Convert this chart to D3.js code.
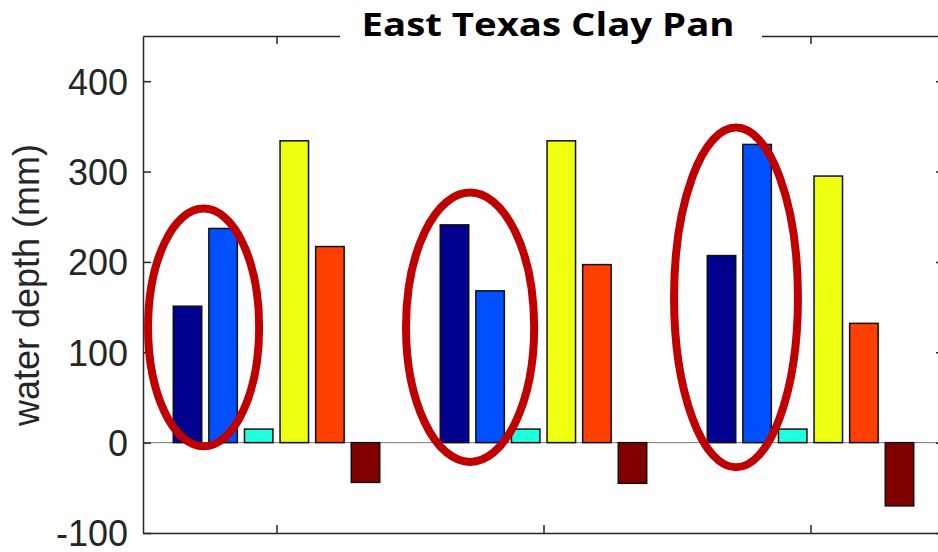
<!DOCTYPE html>
<html>
<head>
<meta charset="utf-8">
<script src="https://cdn.jsdelivr.net/npm/d3@7"></script>
<style>
  body { margin: 0; background: #fff; }
  svg { display: block; }
</style>
</head>
<body>
<svg width="938" height="552"></svg>
<script>
/*global d3*/
(function () {
    'use strict';

    // groups (x positions 1..3) and six series per group
    var groups = [1, 2, 3];
    var seriesColors = ['#00008f', '#0050ff', '#20ffdf', '#efff10', '#ff4000', '#800000'];
    var s1 = [151, 241, 207];
    var s2 = [237, 168, 330];
    var s3 = [15, 15, 15];
    var s4 = [334, 334, 295];
    var s5 = [217, 197, 132];
    var s6 = [-44, -45, -70];
    var series = [s1, s2, s3, s4, s5, s6];

    var yTicks = [-100, 0, 100, 200, 300, 400];
    var titleText = 'East Texas Clay Pan';
    var yLabel = 'water depth (mm)';

    // red highlight ellipses, in data units (cx, cy, rx, ry)
    var ellipses = [
        { cx: 0.727, cy: 127.5, rx: 0.208, ry: 131.6 },
        { cx: 1.725, cy: 127.7, rx: 0.240, ry: 149 },
        { cx: 2.721, cy: 160.7, rx: 0.232, ry: 188 }
    ];

    var svg = d3.select('svg');
    var left = 143, right = 944, top = 36, bottom = 533;
    var axisColor = '#262626';

    var x = d3.scaleLinear().domain([0.5, 3.5]).range([left, right]);
    var y = d3.scaleLinear().domain([-100, 450]).range([bottom, top]);

    var slot = 0.8 / series.length;
    var barW = slot * 0.8;

    var rows = [];
    series.forEach(function (vals, i) {
        vals.forEach(function (v, g) {
            rows.push({ s: i, g: groups[g], v: v });
        });
    });

    // zero baseline
    svg.append('line')
        .attr('x1', left).attr('x2', right)
        .attr('y1', y(0)).attr('y2', y(0))
        .attr('stroke', '#777').attr('stroke-width', 1);

    svg.append('g').attr('class', 'bars')
        .selectAll('rect')
        .data(rows)
        .enter().append('rect')
        .attr('x', function (d) { return x(d.g + (d.s - 2.5) * slot - barW / 2); })
        .attr('width', function (d) { return x(d.g + barW / 2) - x(d.g - barW / 2); })
        .attr('y', function (d) { return y(Math.max(0, d.v)); })
        .attr('height', function (d) { return Math.abs(y(d.v) - y(0)); })
        .attr('fill', function (d) { return seriesColors[d.s]; })
        .attr('stroke', '#111')
        .attr('stroke-width', 1.5);

    // box axes
    var yAxis = d3.axisLeft(y).tickValues(yTicks).tickFormat(String)
        .tickSizeInner(-8).tickSizeOuter(0).tickPadding(15);
    var gy = svg.append('g').attr('transform', 'translate(' + left + ',0)').call(yAxis);
    gy.select('.domain').attr('stroke', axisColor).attr('stroke-width', 1.5);
    gy.selectAll('.tick line').attr('stroke', axisColor).attr('stroke-width', 1.5);
    gy.selectAll('.tick text')
        .attr('fill', axisColor)
        .style('font-family', '"Liberation Sans", Arial, sans-serif')
        .style('font-size', '36px')
        .attr('dy', '0.36em');

    var gyr = svg.append('g').attr('transform', 'translate(' + right + ',0)')
        .call(d3.axisRight(y).tickValues(yTicks).tickSizeInner(-8).tickSizeOuter(0).tickFormat(''));
    gyr.selectAll('path, line').attr('stroke', axisColor).attr('stroke-width', 1.5);

    var gxb = svg.append('g').attr('transform', 'translate(0,' + bottom + ')')
        .call(d3.axisBottom(x).tickValues(groups).tickSizeInner(-8).tickSizeOuter(0).tickFormat(''));
    gxb.selectAll('path, line').attr('stroke', axisColor).attr('stroke-width', 1.5);

    var gxt = svg.append('g').attr('transform', 'translate(0,' + top + ')')
        .call(d3.axisTop(x).tickValues(groups).tickSizeInner(-8).tickSizeOuter(0).tickFormat(''));
    gxt.selectAll('path, line').attr('stroke', axisColor).attr('stroke-width', 1.5);

    // highlight ellipses
    svg.append('g').attr('class', 'marks')
        .selectAll('ellipse')
        .data(ellipses)
        .enter().append('ellipse')
        .attr('cx', function (d) { return x(d.cx); })
        .attr('cy', function (d) { return y(d.cy); })
        .attr('rx', function (d) { return x(d.cx + d.rx) - x(d.cx); })
        .attr('ry', function (d) { return y(0) - y(d.ry); })
        .attr('fill', 'none')
        .attr('stroke', '#c00000')
        .attr('stroke-width', 8);

    // y label
    svg.append('text')
        .attr('transform', 'translate(39,' + 285 + ') rotate(-90)')
        .attr('text-anchor', 'middle')
        .attr('fill', axisColor)
        .style('font-family', '"Liberation Sans", Arial, sans-serif')
        .style('font-size', '36px')
        .text(yLabel);

    // title on white patch over the top border
    svg.append('rect')
        .attr('x', 340).attr('y', 0)
        .attr('width', 422).attr('height', 46)
        .attr('fill', '#fff');
    svg.append('text')
        .attr('x', 548).attr('y', 36)
        .attr('text-anchor', 'middle')
        .attr('fill', '#000')
        .attr('textLength', 373)
        .attr('lengthAdjust', 'spacingAndGlyphs')
        .style('font-family', '"Open Sans", Lato, sans-serif')
        .style('font-weight', 'bold')
        .style('font-size', '33px')
        .text(titleText);
}());
</script>
</body>
</html>
